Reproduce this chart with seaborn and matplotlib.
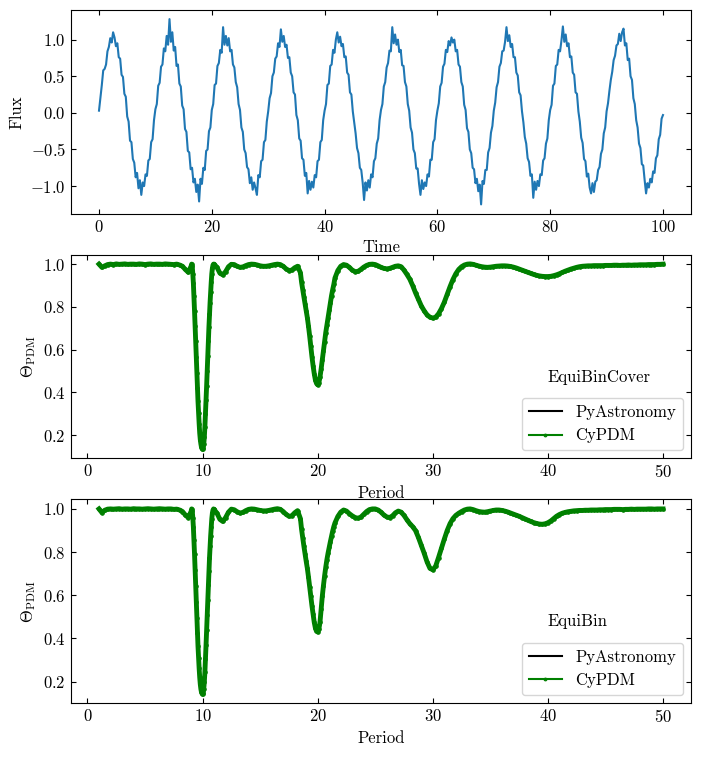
import numpy as np
import matplotlib
matplotlib.use("Agg")
import matplotlib.pyplot as plt
import seaborn as sns

# ---------- light curve (time step 0.25, t = 0 ... 100) ----------
flux = [
    0.03, 0.20, 0.38, 0.58, 0.60, 0.66, 0.84, 0.90, 1.02, 0.96,
    1.10, 1.03, 0.91, 0.95, 0.76, 0.74, 0.52, 0.49, 0.26, 0.22,
    -0.05, -0.12, -0.38, -0.40, -0.63, -0.68, -0.88, -0.82, -1.03, -0.92,
    -1.12, -0.95, -1.00, -0.84, -0.86, -0.65, -0.63, -0.40, -0.36, -0.10,
    0.05, 0.12, 0.37, 0.41, 0.63, 0.66, 0.88, 0.84, 1.05, 0.93,
    1.28, 0.97, 1.10, 0.85, 0.90, 0.64, 0.66, 0.40, 0.36, 0.10,
    0.05, -0.22, -0.26, -0.52, -0.54, -0.77, -0.75, -0.95, -0.90, -1.08,
    -0.98, -1.21, -0.90, -0.97, -0.75, -0.78, -0.52, -0.50, -0.25, -0.20,
    0.04, 0.12, 0.38, 0.40, 0.64, 0.68, 0.86, 0.82, 1.17, 0.93,
    1.05, 0.92, 1.02, 0.84, 0.86, 0.66, 0.62, 0.42, 0.35, 0.12,
    0.04, -0.20, -0.26, -0.50, -0.55, -0.74, -0.77, -0.96, -0.88, -1.05,
    -0.95, -1.03, -1.12, -0.85, -0.88, -0.66, -0.64, -0.40, -0.37, -0.12,
    0.02, 0.20, 0.27, 0.50, 0.55, 0.74, 0.77, 0.95, 0.90, 1.14,
    0.97, 1.05, 0.90, 0.93, 0.75, 0.76, 0.55, 0.50, 0.28, 0.25,
    -0.03, -0.10, -0.35, -0.38, -0.62, -0.64, -0.86, -0.82, -1.10, -0.93,
    -1.05, -0.94, -1.02, -0.85, -0.88, -0.66, -0.64, -0.40, -0.37, -0.10,
    0.03, 0.12, 0.38, 0.40, 0.64, 0.66, 0.86, 0.82, 1.00, 1.10,
    0.96, 1.04, 0.91, 0.94, 0.76, 0.77, 0.55, 0.52, 0.28, 0.25,
    0.02, -0.13, -0.28, -0.48, -0.55, -0.75, -0.78, -0.95, -1.19, -0.95,
    -1.06, -0.92, -1.02, -0.84, -0.88, -0.66, -0.62, -0.42, -0.35, -0.10,
    0.04, 0.12, 0.36, 0.42, 0.62, 0.68, 0.85, 0.84, 1.17, 0.95,
    1.07, 0.93, 1.00, 0.83, 0.86, 0.65, 0.64, 0.42, 0.36, 0.12,
    0.03, -0.20, -0.27, -0.50, -0.55, -0.76, -0.76, -0.97, -1.12, -0.92,
    -1.04, -0.95, -1.00, -0.84, -0.87, -0.64, -0.64, -0.40, -0.36, -0.10,
    0.03, 0.13, 0.36, 0.41, 0.63, 0.67, 0.86, 0.83, 0.98, 0.92,
    1.03, 0.96, 1.00, 0.84, 0.86, 0.66, 0.63, 0.42, 0.36, 0.11,
    0.04, -0.21, -0.26, -0.50, -0.55, -0.75, -0.77, -0.96, -0.90, -1.07,
    -0.98, -1.25, -0.93, -0.97, -0.78, -0.78, -0.54, -0.48, -0.27, -0.18,
    0.03, 0.14, 0.35, 0.42, 0.63, 0.68, 0.84, 0.85, 0.97, 1.17,
    0.98, 1.06, 0.90, 0.94, 0.76, 0.76, 0.55, 0.51, 0.28, 0.24,
    0.02, -0.13, -0.33, -0.42, -0.62, -0.67, -0.86, -0.84, -1.16, -0.94,
    -1.05, -0.93, -1.00, -0.84, -0.85, -0.65, -0.62, -0.42, -0.35, -0.10,
    0.04, 0.11, 0.37, 0.40, 0.64, 0.66, 0.86, 0.84, 0.99, 1.18,
    0.97, 1.07, 0.91, 0.95, 0.76, 0.77, 0.55, 0.52, 0.28, 0.26,
    0.02, -0.12, -0.34, -0.41, -0.63, -0.66, -0.87, -0.83, -1.02, -1.10,
    -0.96, -1.08, -0.94, -0.92, -0.78, -0.74, -0.56, -0.50, -0.28, -0.20,
    0.02, 0.13, 0.30, 0.45, 0.56, 0.72, 0.78, 0.92, 0.94, 1.08,
    0.98, 1.10, 1.15, 0.92, 0.95, 0.72, 0.74, 0.50, 0.45, 0.20,
    0.12, -0.10, -0.20, -0.42, -0.48, -0.70, -0.72, -0.92, -1.10, -0.96,
    -1.02, -0.90, -0.95, -0.80, -0.82, -0.62, -0.58, -0.36, -0.30, -0.08,
    -0.03,
]
time = np.linspace(0, 100, len(flux))

# ---------- PDM periodograms: (start, step, theta values) segments ----------
cover_segments = [
    (1.0, 0.25, [1.000, 0.985, 0.992, 0.998, 1.000, 0.998, 1.001, 0.999, 1.000, 1.001,
                 0.999, 1.000, 1.000, 0.999, 1.001, 1.000, 0.998, 1.000, 1.001, 0.999,
                 1.000, 1.000, 0.999, 1.001, 1.000, 0.999, 0.998, 1.000, 0.996, 0.990,
                 0.975, 0.962]),
    (9.0, 0.05, [0.990, 1.000, 0.990, 0.955, 0.910, 0.850, 0.780, 0.710, 0.640, 0.565,
                 0.490, 0.420, 0.360, 0.305, 0.255, 0.210, 0.180, 0.160, 0.145, 0.137,
                 0.135, 0.140, 0.158, 0.190, 0.240, 0.300, 0.365, 0.430, 0.500, 0.570,
                 0.640, 0.705, 0.765, 0.820, 0.870, 0.915, 0.955, 0.980, 0.995, 1.000]),
    (11.0, 0.25, [1.000, 0.985, 0.958, 0.950, 0.965, 0.988, 0.999, 0.998, 0.990, 0.985,
                  0.987, 0.993, 0.998, 1.000, 0.999, 0.996, 0.992, 0.990, 0.990, 0.992,
                  0.995, 0.998, 1.000, 0.998, 0.990, 0.978, 0.970, 0.972, 0.983, 0.990]),
    (18.5, 0.1, [0.960, 0.915, 0.880, 0.848, 0.815, 0.780, 0.750, 0.710, 0.665, 0.615,
                 0.568, 0.525, 0.488, 0.458, 0.442, 0.436, 0.445, 0.472, 0.510, 0.552,
                 0.595, 0.638, 0.680, 0.715, 0.750, 0.785, 0.820, 0.852, 0.880, 0.905]),
    (21.5, 0.25, [0.935, 0.970, 0.990, 0.998, 0.995, 0.985, 0.972, 0.965, 0.966, 0.975,
                  0.986, 0.994, 0.999, 1.000, 0.998, 0.992, 0.985, 0.980, 0.978, 0.980,
                  0.985, 0.990, 0.992, 0.988, 0.972, 0.952, 0.930, 0.900, 0.866, 0.835,
                  0.805, 0.782, 0.763, 0.752, 0.748, 0.752, 0.768, 0.792, 0.822, 0.858,
                  0.895, 0.928, 0.955, 0.975, 0.988, 0.996, 1.000, 1.001, 0.999, 0.995,
                  0.991, 0.988, 0.986, 0.985, 0.986, 0.988, 0.990, 0.991, 0.992, 0.992,
                  0.991, 0.989, 0.986, 0.982, 0.977, 0.972, 0.967, 0.962, 0.957, 0.952,
                  0.948, 0.945, 0.943, 0.942, 0.942, 0.943, 0.946, 0.950, 0.955, 0.961,
                  0.967, 0.972, 0.977, 0.981, 0.985, 0.988, 0.990, 0.991, 0.992, 0.992,
                  0.993, 0.993, 0.993, 0.993, 0.994, 0.994, 0.994, 0.995, 0.995, 0.994,
                  0.995, 0.995, 0.996, 0.995, 0.996, 0.996, 0.997, 0.997, 0.997, 0.998,
                  0.998, 0.998, 0.999, 0.999, 1.000]),
]

bin_segments = [
    (1.0, 0.25, [1.000, 0.983, 0.994, 0.999, 1.000, 0.999, 1.000, 1.001, 0.999, 1.000,
                 1.000, 0.999, 1.001, 1.000, 1.000, 0.999, 1.000, 1.001, 1.000, 0.999,
                 1.000, 1.001, 1.000, 0.999, 1.000, 1.000, 0.998, 0.999, 0.995, 0.988,
                 0.972, 0.960]),
    (9.0, 0.05, [0.988, 1.000, 0.992, 0.960, 0.915, 0.858, 0.790, 0.718, 0.645, 0.570,
                 0.495, 0.425, 0.365, 0.310, 0.262, 0.220, 0.188, 0.166, 0.152, 0.145,
                 0.143, 0.148, 0.166, 0.198, 0.245, 0.305, 0.370, 0.438, 0.508, 0.578,
                 0.648, 0.712, 0.772, 0.826, 0.874, 0.918, 0.955, 0.980, 0.994, 1.000]),
    (11.0, 0.25, [0.998, 0.980, 0.952, 0.942, 0.960, 0.985, 0.999, 0.996, 0.987, 0.981,
                  0.984, 0.992, 0.998, 1.000, 0.999, 0.996, 0.993, 0.991, 0.991, 0.993,
                  0.996, 0.999, 1.001, 0.998, 0.988, 0.975, 0.966, 0.968, 0.982, 0.992]),
    (18.5, 0.1, [0.955, 0.905, 0.865, 0.828, 0.792, 0.758, 0.725, 0.685, 0.640, 0.595,
                 0.552, 0.512, 0.475, 0.448, 0.433, 0.430, 0.442, 0.475, 0.535, 0.595,
                 0.645, 0.690, 0.730, 0.765, 0.795, 0.822, 0.848, 0.873, 0.897, 0.918]),
    (21.5, 0.25, [0.935, 0.965, 0.985, 0.995, 0.990, 0.978, 0.968, 0.960, 0.957, 0.962,
                  0.975, 0.988, 0.997, 1.000, 1.000, 0.995, 0.985, 0.972, 0.963, 0.960,
                  0.968, 0.982, 0.990, 0.985, 0.970, 0.950, 0.932, 0.918, 0.900, 0.868,
                  0.832, 0.795, 0.755, 0.725, 0.718, 0.735, 0.775, 0.818, 0.860, 0.900,
                  0.932, 0.955, 0.970, 0.980, 0.988, 0.995, 0.999, 1.000, 0.997, 0.992,
                  0.988, 0.986, 0.985, 0.987, 0.990, 0.993, 0.995, 0.995, 0.993, 0.990,
                  0.986, 0.981, 0.976, 0.971, 0.966, 0.960, 0.954, 0.948, 0.942, 0.937,
                  0.933, 0.930, 0.929, 0.931, 0.936, 0.944, 0.955, 0.966, 0.974, 0.980,
                  0.984, 0.987, 0.989, 0.991, 0.992, 0.993, 0.993, 0.994, 0.994, 0.995,
                  0.995, 0.995, 0.996, 0.996, 0.997, 0.997, 0.997, 0.998, 0.998, 0.998,
                  0.997, 0.998, 0.998, 0.999, 0.998, 0.999, 0.999, 0.999, 0.999, 1.000,
                  1.000, 0.999, 1.000, 1.000, 1.000]),
]


def unpack(segments):
    per, th = [], []
    for start, step, vals in segments:
        per.extend(start + step * np.arange(len(vals)))
        th.extend(vals)
    return np.array(per), np.array(th)


period_cover, theta_cover = unpack(cover_segments)
period_bin, theta_bin = unpack(bin_segments)

plt.rcParams.update({
    "font.family": "serif",
    "font.serif": ["cmr10"],
    "mathtext.fontset": "cm",
    "axes.formatter.use_mathtext": True,
    "font.size": 12,
    "xtick.direction": "in",
    "ytick.direction": "in",
    "xtick.top": True,
    "ytick.right": True,
})

f, axs = plt.subplots(3, 1, figsize=(7.01, 7.57), dpi=100)
plt.subplots_adjust(left=0.101, right=0.986, top=0.987, bottom=0.071, hspace=0.201)

# ---------- light curve ----------
sns.lineplot(x=time, y=flux, ax=axs[0], color="#1f77b4", linewidth=1.5)
axs[0].set_xlabel("Time")
axs[0].set_ylabel("Flux")
axs[0].set_xticks([0, 20, 40, 60, 80, 100])
axs[0].set_yticks([-1.0, -0.5, 0.0, 0.5, 1.0])

# ---------- periodograms ----------
for ax, per, th, name in [(axs[1], period_cover, theta_cover, "EquiBinCover"),
                          (axs[2], period_bin, theta_bin, "EquiBin")]:
    sns.lineplot(x=per, y=th, ax=ax, color="k", linewidth=1.5, label="PyAstronomy")
    # dense CyPDM samples render as a thick band of dots
    sns.lineplot(x=per, y=th, ax=ax, color="green", linewidth=3.5, marker=".",
                 markersize=5, markeredgecolor="green", label="CyPDM")
    leg = ax.legend(loc="lower right")
    for h in leg.legend_handles:
        h.set_linewidth(1.5)
        h.set_markersize(4)
    ax.text(0.769, 0.40, name, transform=ax.transAxes, ha="left", va="center")
    ax.set_xlabel("Period")
    ax.set_ylabel(r"$\Theta_{\rm PDM}$")
    ax.set_xticks([0, 10, 20, 30, 40, 50])
    ax.set_yticks([0.2, 0.4, 0.6, 0.8, 1.0])

plt.savefig("out.png", dpi=100)
